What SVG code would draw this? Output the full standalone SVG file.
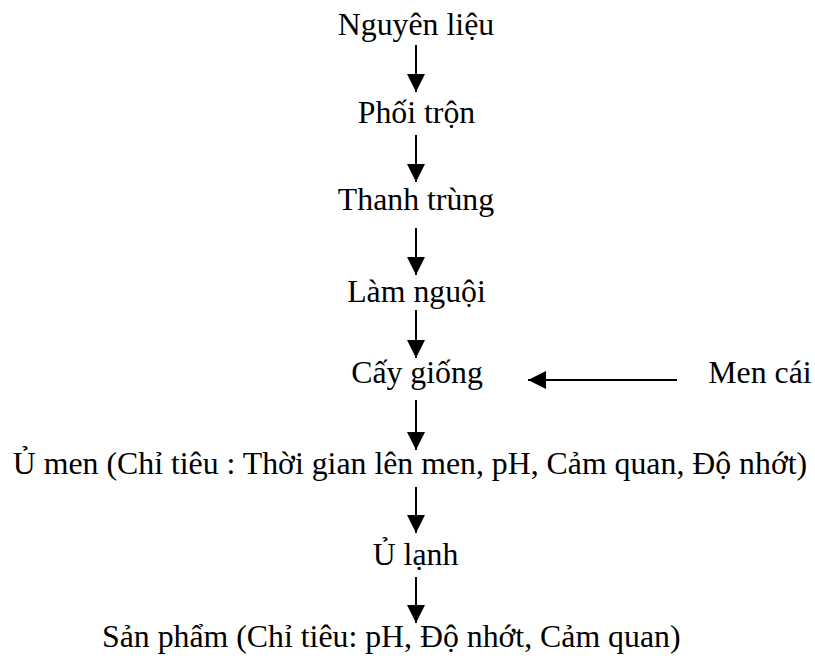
<svg xmlns="http://www.w3.org/2000/svg" width="815" height="660" viewBox="0 0 815 660">
<style>
text{font-family:"Liberation Serif","Times New Roman",serif;font-size:31.8px;fill:#000;text-anchor:middle}
.c line{stroke:#000;stroke-width:2;fill:none}
</style>
<defs>
<marker id="ah" markerUnits="userSpaceOnUse" markerWidth="18" markerHeight="18" viewBox="0 0 16 16" refX="16" refY="8" orient="auto">
<path d="M0,0 L16,8 L0,16 Z" fill="#000"/>
</marker>
</defs>
<rect width="815" height="660" fill="#fff"/>
<g id="n1"><text x="416" y="35">Nguyên liệu</text></g>
<g id="n2"><text x="416.5" y="123">Phối trộn</text></g>
<g id="n3"><text x="416" y="210">Thanh trùng</text></g>
<g id="n4"><text x="416.5" y="302">Làm nguội</text></g>
<g id="n5"><text x="417" y="383">Cấy giống</text></g>
<g id="n6"><text x="760" y="383">Men cái</text></g>
<g id="n7"><text x="410" y="474">Ủ men (Chỉ tiêu : Thời gian lên men, pH, Cảm quan, Độ nhớt)</text></g>
<g id="n8"><text x="415.5" y="565">Ủ lạnh</text></g>
<g id="n9"><text x="102" y="647" style="text-anchor:start">Sản phẩm (Chỉ tiêu: pH, Độ nhớt, Cảm quan)</text></g>
<g class="c" id="connectors">
<line x1="416" y1="45" x2="416" y2="92" marker-end="url(#ah)"/>
<line x1="416" y1="135" x2="416" y2="182" marker-end="url(#ah)"/>
<line x1="416" y1="228" x2="416" y2="275" marker-end="url(#ah)"/>
<line x1="416" y1="310" x2="416" y2="358" marker-end="url(#ah)"/>
<line x1="416" y1="400" x2="416" y2="450" marker-end="url(#ah)"/>
<line x1="416" y1="487" x2="416" y2="533" marker-end="url(#ah)"/>
<line x1="416" y1="577" x2="416" y2="623" marker-end="url(#ah)"/>
<line x1="677" y1="380" x2="528" y2="380" marker-end="url(#ah)"/>
</g>
</svg>
